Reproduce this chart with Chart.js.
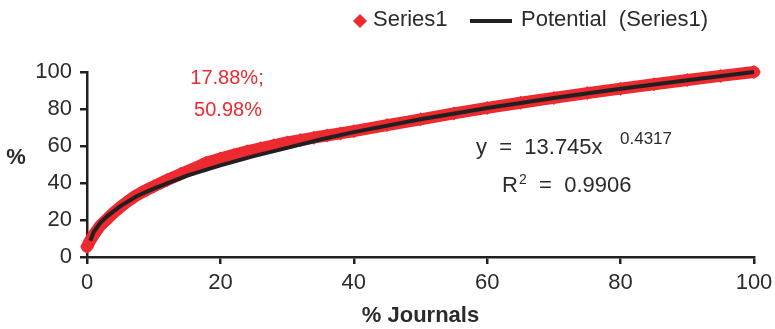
<!DOCTYPE html>
<html lang="en">
<head>
    <meta charset="UTF-8">
    <title>% Journals</title>
    <script src="https://cdn.jsdelivr.net/npm/chart.js@4"></script>
    <style>
        html, body { margin: 0; padding: 0; background: #fff; overflow: hidden; }
        #wrap { width: 775px; height: 329px; }
    </style>
</head>
<body>
    <div id="wrap"><canvas id="journalChart"></canvas></div>
    <script>
        // values
        const journalPct = [0, 0.5, 1, 2, 3, 4, 5, 6, 7, 8, 9, 10, 12, 14, 16, 17.88, 20, 22, 24, 26, 28, 30, 32, 34, 36, 38, 40, 45, 50, 55, 60, 65, 70, 75, 80, 85, 90, 95, 100];
        const cumPct = [5.6, 9, 12, 17, 20.5, 24, 27, 29.8, 32.3, 34.5, 36.4, 38.2, 41.6, 44.8, 47.8, 50.98, 53.2, 55.2, 57.1, 58.8, 60.4, 61.9, 63.2, 64.5, 65.7, 66.8, 68, 71.3, 74.4, 77.6, 80.6, 83.4, 86, 88.6, 91, 93.4, 95.7, 97.9, 100];

        // power trend line as drawn
        const trendX = [0.5, 1, 2, 3, 5, 7.5, 10, 15, 20, 25, 30, 35, 40, 50, 60, 70, 80, 90, 100];
        const trendY = [8.8, 13.5, 18.5, 22, 27.5, 33, 37, 44, 49.5, 54.5, 59, 63.5, 67.5, 74.5, 80.5, 86, 91, 95.5, 100];

        const seriesNames = ['Series1', 'Potential  (Series1)'];
        const pointLabel = ['17.88%;', '50.98%'];
        const equation = { base: 'y  =  13.745x', exp: '0.4317', r2: '0.9906' };

        const RED = '#ec2a30';
        const DARK = '#231f20';
        const TEXT = '#2b2b2b';
        const FONT = "'Liberation Sans', Arial, sans-serif";

        const toPoints = (xs, ys) => xs.map((x, i) => ({ x: x, y: ys[i] }));

        const textPlugin = {
            id: 'textPlugin',
            afterDraw(chart) {
                const c = chart.ctx;
                c.save();

                // legend
                const ds = chart.data.datasets;
                c.textBaseline = 'middle';
                c.textAlign = 'left';
                c.font = '22px ' + FONT;
                c.fillStyle = ds[0].borderColor;
                c.beginPath();
                c.moveTo(353, 21); c.lineTo(360, 14); c.lineTo(367, 21); c.lineTo(360, 28);
                c.closePath();
                c.fill();
                c.fillStyle = TEXT;
                c.fillText(ds[0].label, 373, 20);
                c.strokeStyle = ds[1].borderColor;
                c.lineWidth = 4;
                c.beginPath();
                c.moveTo(470, 21); c.lineTo(512, 21);
                c.stroke();
                c.fillText(ds[1].label, 521, 20);

                // y axis title
                c.textAlign = 'center';
                c.font = 'bold 22px ' + FONT;
                c.fillText('%', 16, 158);

                // point label
                c.font = '20px ' + FONT;
                c.fillStyle = RED;
                c.fillText(pointLabel[0], 227, 78);
                c.fillText(pointLabel[1], 228, 110);

                // trend equation
                c.fillStyle = TEXT;
                c.textAlign = 'left';
                c.font = '22px ' + FONT;
                c.fillText(equation.base, 476, 148);
                c.font = '17px ' + FONT;
                c.fillText(equation.exp, 620, 139);
                c.font = '22px ' + FONT;
                c.fillText('R', 502, 186);
                const rw = c.measureText('R').width;
                c.font = '14px ' + FONT;
                c.fillText('2', 502 + rw + 1, 180);
                c.font = '22px ' + FONT;
                c.fillText('  =  ' + equation.r2, 502 + rw + 9, 186);

                c.restore();
            }
        };

        const ctx = document.getElementById('journalChart').getContext('2d');
        const chart = new Chart(ctx, {
            type: 'scatter',
            data: {
                datasets: [{
                    label: seriesNames[0],
                    data: toPoints(journalPct, cumPct),
                    showLine: true,
                    clip: 14,
                    borderColor: RED,
                    backgroundColor: RED,
                    borderWidth: 12,
                    borderJoinStyle: 'round',
                    borderCapStyle: 'round',
                    pointStyle: 'rectRot',
                    pointRadius: 7,
                    pointBorderWidth: 0,
                    order: 2
                },
                {
                    label: seriesNames[1],
                    data: toPoints(trendX, trendY),
                    showLine: true,
                    clip: 14,
                    borderColor: DARK,
                    borderWidth: 4,
                    pointRadius: 0,
                    tension: 0,
                    order: 1
                }]
            },
            options: {
                responsive: true,
                maintainAspectRatio: false,
                animation: false,
                layout: { padding: { left: 0, top: 72, right: 21, bottom: 0 } },
                plugins: {
                    legend: { display: false },
                    tooltip: { enabled: false }
                },
                scales: {
                    x: {
                        type: 'linear',
                        min: 0,
                        max: 100,
                        ticks: { stepSize: 20, color: TEXT, padding: 6, font: { family: FONT, size: 22 } },
                        grid: { drawOnChartArea: false, tickLength: 7, color: DARK, lineWidth: 2.5 },
                        border: { color: DARK, width: 2.5 },
                        title: { display: true, text: '% Journals', color: TEXT, padding: { top: 2, bottom: 0 }, font: { family: FONT, size: 22, weight: 'bold' } },
                        afterFit: scale => {
                            scale.height = 72;
                            scale.paddingLeft = 0;
                            scale.paddingRight = 0;
                        }
                    },
                    y: {
                        min: 0,
                        max: 100,
                        ticks: { stepSize: 20, color: TEXT, padding: 8, font: { family: FONT, size: 22 } },
                        grid: { drawOnChartArea: false, tickLength: 7, color: DARK, lineWidth: 2.5 },
                        border: { color: DARK, width: 2.5 },
                        afterFit: scale => { scale.width = 87; }
                    }
                }
            },
            plugins: [textPlugin]
        });
    </script>
</body>
</html>
